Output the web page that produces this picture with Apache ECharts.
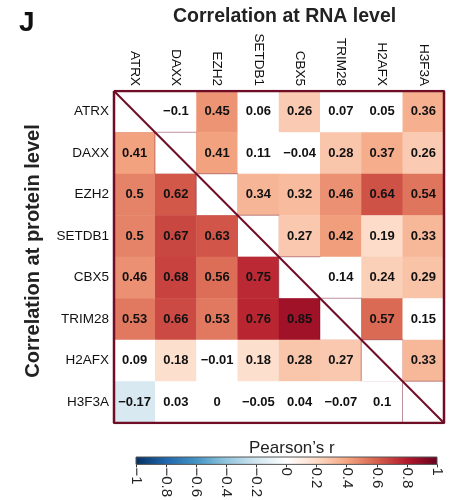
<!DOCTYPE html>
<html><head><meta charset="utf-8">
<script src="https://cdn.jsdelivr.net/npm/echarts@6/dist/echarts.min.js"></script>
<style>html,body{margin:0;padding:0;background:#fff}#c{width:454px;height:500px}</style>
</head><body><div id="c"></div>
<script>
// Genes (rows and columns)
const genes = ['ATRX','DAXX','EZH2','SETDB1','CBX5','TRIM28','H2AFX','H3F3A'];
// RNA-level correlations: upper triangle, row by row (columns to the right of the diagonal)
const rnaUpper = [
  [-0.1, 0.45, 0.06, 0.26, 0.07, 0.05, 0.36],
  [0.41, 0.11, -0.04, 0.28, 0.37, 0.26],
  [0.34, 0.32, 0.46, 0.64, 0.54],
  [0.27, 0.42, 0.19, 0.33],
  [0.14, 0.24, 0.29],
  [0.57, 0.15],
  [0.33],
  []
];
// Protein-level correlations: lower triangle, row by row (columns left of the diagonal)
const proteinLower = [
  [],
  [0.41],
  [0.5, 0.62],
  [0.5, 0.67, 0.63],
  [0.46, 0.68, 0.56, 0.75],
  [0.53, 0.66, 0.53, 0.76, 0.85],
  [0.09, 0.18, -0.01, 0.18, 0.28, 0.27],
  [-0.17, 0.03, 0, -0.05, 0.04, -0.07, 0.1]
];
// Colour scale (Pearson's r from -1 to 1)
const scaleMin = -1, scaleMax = 1, scaleStep = 0.2;
const scaleColors = ['#053061','#2166AC','#4393C3','#92C5DE','#D1E5F0','#FFFFFF','#FDDBC7','#F4A582','#D6604D','#B2182B','#67001F'];
const sigThreshold = 0.165; // cells below this |r| are left blank

const FONT = '"Liberation Sans", Arial, Helvetica, sans-serif';
const MAROON = '#6f0d26';

function hex2rgb(h){return [parseInt(h.slice(1,3),16),parseInt(h.slice(3,5),16),parseInt(h.slice(5,7),16)];}
function colorFor(v){
  if (Math.abs(v) < sigThreshold) return '#ffffff';
  const t = (v - scaleMin) / (scaleMax - scaleMin) * (scaleColors.length - 1);
  const i = Math.min(Math.floor(t), scaleColors.length - 2);
  const f = t - i;
  const a = hex2rgb(scaleColors[i]), b = hex2rgb(scaleColors[i+1]);
  const c = a.map((x,k)=>Math.round(x + (b[k]-x)*f));
  return 'rgb(' + c.join(',') + ')';
}
function fmt(v){
  const s = String(Math.round(v*100)/100);
  return s.replace('-', '\u2212');
}

const cells = [];
for (let i = 0; i < genes.length; i++) {
  for (let j = 0; j < genes.length; j++) {
    if (i === j) {
      cells.push({value:[j,i,0], itemStyle:{color:'#ffffff', borderColor:'rgba(111,13,38,0.45)', borderWidth:1}, label:{show:false}});
    } else {
      const v = j > i ? rnaUpper[i][j-i-1] : proteinLower[i][j];
      cells.push({value:[j,i,v], itemStyle:{color:colorFor(v)}});
    }
  }
}
const n = genes.length;

const gradStops = scaleColors.map((c,k)=>({offset:k/(scaleColors.length-1), color:c}));

const chart = echarts.init(document.getElementById('c'), null, {renderer:'canvas'});
chart.setOption({
  backgroundColor:'#ffffff',
  animation:false,
  textStyle:{fontFamily:FONT},
  title:[
    {text:'J', left:14, top:4, textStyle:{fontFamily:FONT, fontSize:28, fontWeight:'bold', color:'#111'}},
    {text:'Correlation at RNA level', left:168, top:2, textStyle:{fontFamily:FONT, fontSize:19.5, fontWeight:'bold', color:'#222'}},
    {text:'Pearson\u2019s r', left:244, top:435, textStyle:{fontFamily:FONT, fontSize:17, fontWeight:'normal', color:'#222'}}
  ],
  graphic:[
    {type:'text', x:33, y:251, rotation:Math.PI/2, style:{text:'Correlation at protein level', fontFamily:FONT, fontSize:20, fontWeight:'bold', fill:'#222', align:'center', verticalAlign:'middle'}}
  ],
  grid:[
    {left:114, top:91, width:330, height:332},
    {left:114, top:91, width:330, height:332},
    {left:136, top:457, width:301, height:13}
  ],
  xAxis:[
    {type:'category', gridIndex:0, data:genes, position:'top', axisLine:{show:false}, axisTick:{show:false}, splitLine:{show:false},
     axisLabel:{rotate:90, margin:5, fontSize:13.5, color:'#111', fontFamily:FONT}},
    {type:'value', gridIndex:1, min:0, max:n, show:false},
    {type:'value', gridIndex:2, min:scaleMin, max:scaleMax, interval:scaleStep, position:'bottom',
     axisLine:{show:false}, splitLine:{show:false},
     axisTick:{show:true, length:3, lineStyle:{color:'#333'}},
     axisLabel:{rotate:-90, margin:3, fontSize:15, color:'#222', fontFamily:FONT, formatter:fmt}}
  ],
  yAxis:[
    {type:'category', gridIndex:0, data:genes, inverse:true, axisLine:{show:false}, axisTick:{show:false}, splitLine:{show:false},
     axisLabel:{margin:5, fontSize:13.5, color:'#111', fontFamily:FONT}},
    {type:'value', gridIndex:1, min:0, max:n, inverse:true, show:false},
    {type:'value', gridIndex:2, min:0, max:1, show:false}
  ],
  series:[
    {type:'heatmap', xAxisIndex:0, yAxisIndex:0, data:cells,
     label:{show:true, fontFamily:FONT, fontSize:13, fontWeight:'bold', color:'#111', formatter:p=>fmt(p.value[2])},
     emphasis:{disabled:true}},
    {type:'line', xAxisIndex:1, yAxisIndex:1, data:[[0,0],[n,n]], symbol:'none', z:10,
     lineStyle:{color:MAROON, width:2}},
    {type:'line', xAxisIndex:1, yAxisIndex:1, data:[[0,0],[n,0],[n,n],[0,n],[0,0]], symbol:'none', z:11,
     lineStyle:{color:MAROON, width:2.5}},
    {type:'custom', xAxisIndex:2, yAxisIndex:2, data:[[scaleMin, scaleMax]], z:5,
     renderItem:function(params, api){
       const a = api.coord([api.value(0), 1]);
       const b = api.coord([api.value(1), 0]);
       return {type:'rect', shape:{x:a[0], y:a[1], width:b[0]-a[0], height:b[1]-a[1]},
         style:{fill:new echarts.graphic.LinearGradient(0,0,1,0,gradStops), stroke:'#555', lineWidth:1}};
     }}
  ]
});
</script>
</body></html>
